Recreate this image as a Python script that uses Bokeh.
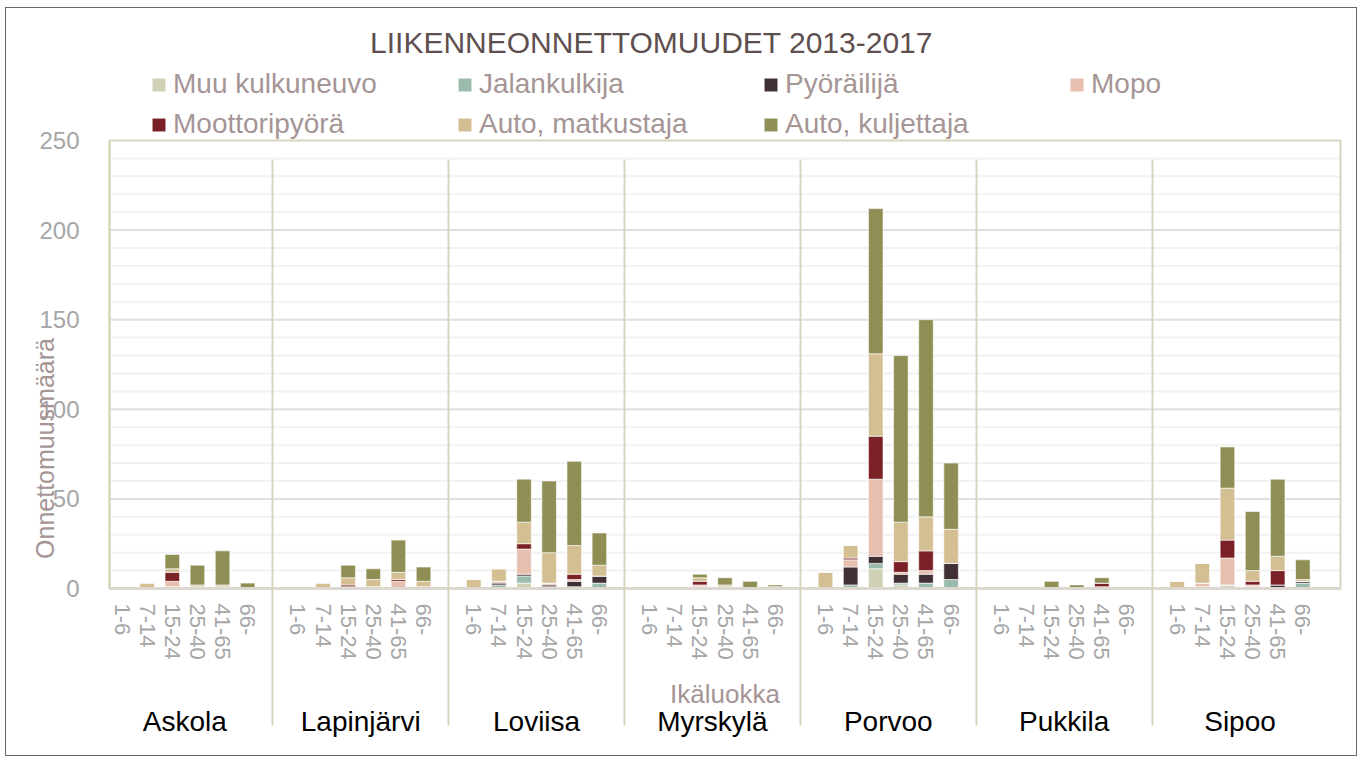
import math
from bokeh.plotting import figure
from bokeh.models import (ColumnDataSource, Range1d, FixedTicker, SingleIntervalTicker,
                          LinearAxis, Legend, LegendItem, Label)
from bokeh.embed import file_html
from bokeh.resources import INLINE

# ---------------- data ----------------
municipalities = ["Askola", "Lapinjärvi", "Loviisa", "Myrskylä", "Porvoo", "Pukkila", "Sipoo"]
age_groups = ["1-6", "7-14", "15-24", "25-40", "41-65", "66-"]

series_names = ["Muu kulkuneuvo", "Jalankulkija", "Pyöräilijä", "Mopo",
                "Moottoripyörä", "Auto, matkustaja", "Auto, kuljettaja"]
series_colors = ["#d0d1b4", "#9bbbad", "#403034", "#e6bfae",
                 "#7a2127", "#d4bf93", "#8f8f55"]

# values per municipality (Askola .. Sipoo), 6 age groups each
muu_kulkuneuvo = [0, 0, 0, 1, 0, 0,   0, 0, 0, 0, 0, 0,   0, 0, 3, 0, 0, 0,
                  0, 0, 1, 0, 0, 0,   0, 0, 11, 2, 0, 0,  0, 0, 0, 0, 0, 1,
                  0, 0, 2, 1, 0, 0]
jalankulkija = [0, 0, 1, 0, 0, 0,   0, 0, 0, 0, 0, 0,   0, 2, 4, 1, 1, 3,
                0, 1, 0, 0, 0, 0,   0, 2, 3, 1, 3, 5,   0, 0, 0, 0, 0, 0,
                0, 0, 0, 0, 0, 3]
pyorailija = [0, 0, 0, 0, 0, 0,   0, 0, 0, 0, 0, 1,   0, 1, 1, 1, 3, 4,
              0, 0, 0, 1, 0, 0,   0, 10, 4, 5, 5, 9,  0, 0, 0, 0, 0, 0,
              0, 1, 0, 0, 2, 1]
mopo = [0, 0, 3, 0, 1, 0,   0, 0, 1, 1, 4, 0,   0, 1, 14, 1, 1, 0,
        0, 0, 1, 0, 0, 0,   0, 4, 43, 1, 2, 0,  0, 0, 0, 0, 1, 0,
        0, 2, 15, 1, 0, 0]
moottoripyora = [0, 0, 5, 0, 0, 0,   0, 0, 1, 0, 1, 0,   0, 0, 3, 0, 3, 0,
                 0, 0, 2, 0, 0, 0,   0, 1, 24, 6, 11, 0, 0, 1, 0, 0, 2, 0,
                 0, 0, 10, 2, 8, 0]
auto_matkustaja = [0, 3, 2, 1, 1, 0,   0, 3, 4, 4, 4, 3,   5, 7, 12, 17, 16, 6,
                   0, 0, 2, 1, 0, 1,   9, 7, 46, 22, 19, 19, 1, 0, 0, 0, 0, 0,
                   4, 11, 29, 6, 8, 1]
auto_kuljettaja = [0, 0, 8, 11, 19, 3,   0, 0, 7, 6, 18, 8,   0, 0, 24, 40, 47, 18,
                   0, 0, 2, 4, 4, 1,     0, 0, 81, 93, 110, 37, 0, 0, 4, 2, 3, 0,
                   0, 0, 23, 33, 43, 11]

series_values = [muu_kulkuneuvo, jalankulkija, pyorailija, mopo,
                 moottoripyora, auto_matkustaja, auto_kuljettaja]

title_text = "LIIKENNEONNETTOMUUDET 2013-2017"
y_title = "Onnettomuusmäärä"
x_title = "Ikäluokka"
y_max = 250
y_major_step = 50
y_minor_step = 10

# ---------------- positions (one empty slot between municipalities) ----------------
n_age = len(age_groups)
slot = n_age + 1
xs = [g * slot + i for g in range(len(municipalities)) for i in range(n_age)]
age_labels = [age_groups[i] for g in range(len(municipalities)) for i in range(n_age)]
group_centers = [g * slot + (n_age - 1) / 2 for g in range(len(municipalities))]
separators = [g * slot + n_age for g in range(len(municipalities) - 1)]
x_lo, x_hi = -0.5, len(municipalities) * slot - 1 + 0.5
x_mid = (x_lo + x_hi) / 2

keys = ["s%d" % k for k in range(len(series_names))]
data = {"x": xs}
for k, vals in zip(keys, series_values):
    data[k] = vals
src = ColumnDataSource(data)

# ---------------- layout constants (pixels) ----------------
W, H = 1352, 749
PAD_L, PAD_R, PAD_T = 103, 18, 132      # plot area inside the (full-width) frame
PAD_IN_B = 12                            # frame continues a little below zero
PAD_B = 157                              # room for the x axes
frame_h = H - PAD_B
slot_px = (W - PAD_L - PAD_R) / (x_hi - x_lo)
unit_px = (frame_h - PAD_T - PAD_IN_B) / y_max
x_range = Range1d(x_lo - PAD_L / slot_px, x_hi + PAD_R / slot_px)
y_range = Range1d(-PAD_IN_B / unit_px, (frame_h - PAD_IN_B) / unit_px)

FONT = "Liberation Sans"
MAUVE = "#a59595"
GRAY = "#a6a6a6"
OLIVE_LINE = "#d6d6bd"

p = figure(width=W, height=H, x_range=x_range, y_range=y_range,
           output_backend="svg", toolbar_location=None,
           x_axis_type=None, y_axis_type=None,
           min_border_left=0, min_border_right=0,
           min_border_top=0, min_border_bottom=PAD_B)
p.outline_line_color = None
p.background_fill_color = "white"
p.border_fill_color = "white"
p.styles = {"border": "1px solid #6f6666", "margin": "7px 0px 0px 5px"}

# grid lines (only inside the plot area)
minor_vals = [v for v in range(y_minor_step, y_max, y_minor_step) if v % y_major_step]
major_vals = list(range(y_major_step, y_max, y_major_step))
p.segment(x0=x_lo, x1=x_hi, y0=minor_vals, y1=minor_vals,
          line_color="#f2f2f2", line_width=2, level="underlay")
p.segment(x0=x_lo, x1=x_hi, y0=major_vals, y1=major_vals,
          line_color="#e0e0e0", line_width=2, level="underlay")
# plot-area border
p.quad(left=x_lo, right=x_hi, bottom=0, top=y_max, fill_color=None,
       line_color=OLIVE_LINE, line_width=2, level="underlay")

# y axis at the left edge of the plot area
yaxis = LinearAxis(ticker=SingleIntervalTicker(interval=y_major_step), fixed_location=x_lo,
                   bounds=(0, y_max))
yaxis.axis_line_color = OLIVE_LINE
yaxis.axis_line_width = 2
yaxis.major_tick_out = 0
yaxis.major_tick_in = 0
yaxis.minor_tick_out = 0
yaxis.minor_tick_in = 0
yaxis.major_label_standoff = 30
yaxis.major_label_text_font = FONT
yaxis.major_label_text_font_size = "24px"
yaxis.major_label_text_color = GRAY
p.add_layout(yaxis, "left")

def bare_axis(ticker):
    ax = LinearAxis(ticker=ticker)
    ax.major_tick_out = 0
    ax.major_tick_in = 0
    ax.minor_tick_out = 0
    ax.minor_tick_in = 0
    ax.axis_line_color = None
    ax.major_label_text_font = FONT
    return ax

# x axis 1: age groups
ax1 = bare_axis(FixedTicker(ticks=xs, minor_ticks=[]))
ax1.major_label_overrides = {x: lab for x, lab in zip(xs, age_labels)}
ax1.major_label_orientation = "vertical"
ax1.major_label_text_font_size = "22px"
ax1.major_label_text_color = GRAY
ax1.major_label_standoff = 3
p.add_layout(ax1, "below")

# axis title row ("Ikäluokka"), centred under the plot area
axt = bare_axis(FixedTicker(ticks=[x_mid], minor_ticks=[]))
axt.major_label_overrides = {x_mid: x_title}
axt.major_label_text_font_size = "26px"
axt.major_label_text_color = MAUVE
axt.major_label_standoff = 16
p.add_layout(axt, "below")

# x axis 2: municipalities, with the group separators as long minor ticks
ax2 = bare_axis(FixedTicker(ticks=group_centers, minor_ticks=separators))
ax2.major_label_overrides = {c: m for c, m in zip(group_centers, municipalities)}
ax2.major_label_text_font_size = "28px"
ax2.major_label_text_color = "black"
ax2.major_label_standoff = -20
ax2.minor_tick_out = 14
ax2.minor_tick_in = 552
ax2.minor_tick_line_color = OLIVE_LINE
ax2.minor_tick_line_width = 2
p.add_layout(ax2, "below")

# stacked bars
renderers = p.vbar_stack(keys, x="x", width=0.58, source=src,
                         fill_color=series_colors, line_color="white", line_width=0.6)

# category-axis base line at zero
p.segment(x0=x_lo, x1=x_hi, y0=0, y1=0, line_color="#dcd8d0", line_width=3, level="guide")

items = [LegendItem(label=n, renderers=[r]) for n, r in zip(series_names, renderers)]
legend = Legend(items=items, location=(144, frame_h - PAD_T),
                orientation="horizontal", ncols=4)
legend.label_text_font = FONT
legend.label_text_font_size = "28px"
legend.label_text_color = MAUVE
legend.glyph_width = 17
legend.glyph_height = 17
legend.label_standoff = 6
legend.label_width = 275
legend.label_height = 32
legend.spacing = 8
legend.padding = 0
legend.margin = 0
legend.border_line_color = None
legend.background_fill_alpha = 0
p.add_layout(legend)

p.add_layout(Label(x=645, y=558, x_units="screen", y_units="screen", text=title_text,
                   text_align="center", text_baseline="middle",
                   text_font=FONT, text_font_size="30px", text_color="#5e4f4f"))
p.add_layout(Label(x=38, y=152, x_units="screen", y_units="screen", text=y_title,
                   angle=math.pi / 2, text_align="center", text_baseline="middle",
                   text_font=FONT, text_font_size="25px", text_color=MAUVE))

open("out.html", "w").write(file_html(p, INLINE))
